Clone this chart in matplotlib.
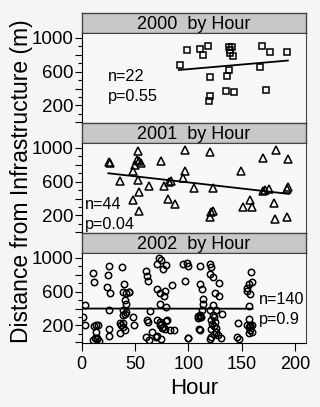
import numpy as np
import matplotlib
matplotlib.use('Agg')
import matplotlib.pyplot as plt

plt.rcParams['font.family'] = ['Liberation Sans', 'DejaVu Sans']

# ---------------- data ----------------
years = ['2000', '2001', '2002']

hour_2000 = [92, 99, 111, 114, 118, 120, 120, 119, 137.5, 141, 139, 142, 137.5, 136,
             135, 143, 169, 176, 167, 172.5, 192, 139]
dist_2000 = [675, 853, 872, 801, 908, 532, 307, 248, 892, 892, 821, 782, 623, 552,
             374, 355, 900, 833, 655, 378, 833, 860]

hour_2001 = [26, 27, 53, 52, 54, 50, 56, 48, 74, 36, 53, 63, 77, 84, 82, 95, 97, 54,
             48, 81, 87, 54, 97, 120, 105, 123, 123, 121, 120, 149, 158, 151, 159,
             170, 182, 193, 172, 170, 175, 180, 181, 192, 193, 192]
dist_2001 = [834, 820, 968, 861, 841, 795, 820, 731, 849, 605, 624, 546, 546, 612,
             600, 644, 724, 478, 387, 395, 336, 249, 971, 954, 520, 520, 249, 235,
             178, 731, 382, 297, 297, 875, 970, 868, 498, 490, 515, 349, 158, 183,
             540, 515]

hour_2002 = [3, 1, 3, 11, 12, 13.5, 15.5, 13.5, 12.5, 14.5, 11,
             26, 25, 23.5, 27, 26, 26, 26,
             37.5, 39.5, 39, 42, 44, 40.5, 42, 39, 38.5, 40.5, 36, 39, 38.5, 35.5,
             48.5, 49,
             60.5, 61.5, 62.5, 64, 61.5, 62.5, 60.5, 63.5, 65.5,
             72, 71, 74, 79, 76, 71, 73.5, 78, 77, 84.5, 73.5, 79, 71, 73.5, 73,
             75, 80, 78, 83, 86.5, 71, 74, 95, 98.5, 97, 100,
             100, 110.5, 110.5, 112.5, 113.5, 114, 112.5, 111, 110.5, 109, 109.5,
             120.5, 121, 120.5, 122.5, 129, 125, 129, 123, 120, 126, 131.5, 123,
             121, 125, 123.5, 121.5, 126, 120.5, 130, 127.5,
             100, 146, 145, 147,
             158.5, 156.5, 159.5, 154.5, 158, 154.5, 156.5, 156.5, 154.5, 158,
             159.5, 156.5, 158,
             14, 16, 12, 42, 44, 37, 41, 74, 76, 70, 79, 109, 112, 111,
             124, 122, 126, 124, 121, 158, 157, 159]
dist_2002 = [438, 301, 204, 826, 718, 204, 204, 126, 49, 37, 33,
             904, 796, 659, 581, 379, 154, 76,
             893, 690, 593, 581, 593, 496, 449, 379, 321, 340, 224, 231, 177, 115,
             301, 204,
             846, 788, 729, 368, 263, 243, 60, 29, 126,
             1001, 931, 975, 918, 866, 632, 581, 612, 543, 679, 457, 418, 263, 243,
             204, 165, 263, 157, 149, 149, 76, 37, 924, 944, 729, 49,
             904, 904, 690, 632, 516, 457, 387, 321, 301, 290, 154,
             931, 893, 815, 776, 698, 581, 554, 438, 387, 379, 340, 321,
             263, 243, 193, 154, 126, 37, 49, 88,
             56, 224, 68, 37,
             838, 690, 710, 644, 574, 606, 426, 282, 204, 193, 204, 115, 146,
             45, 20, 190, 360, 600, 200, 140, 220, 180, 60, 250, 310, 295, 150,
             300, 220, 170, 100, 60, 210, 180, 120]

# fitted lines (end points)
fit_x = [[91, 193], [25, 194], [1, 160]]
fit_y = [[620, 732], [700, 455], [400, 398]]

n_text = ['n=22', 'n=44', 'n=140']
p_text = ['p=0.55', 'p=0.04', 'p=0.9']
text_x = [25, 3, 165.5]
n_y = [493, 280, 454]
p_y = [249, 43, 217]

hours = [hour_2000, hour_2001, hour_2002]
dists = [dist_2000, dist_2001, dist_2002]
markers = ['s', '^', 'o']
msizes = [4.3, 5.2, 4.6]

# ---------------- figure ----------------
W, H = 320, 407
fig = plt.figure(figsize=(W / 100, H / 100), dpi=100, facecolor='#f5f5f5')

left = 81.6 / W
width = (306 - 81.6) / W
strip_h = 20 / H
plot_h = 90 / H
top0 = 13.3

for i in range(3):
    strip_top = top0 + i * 110
    sax = fig.add_axes([left, 1 - (strip_top + 20) / H, width, strip_h])
    sax.set_facecolor('#c8c8c8')
    sax.set_xticks([])
    sax.set_yticks([])
    for s in sax.spines.values():
        s.set_color('#444444')
        s.set_linewidth(1)
    sax.text(0.5, 0.45, years[i] + '  by Hour', ha='center', va='center',
             fontsize=13, transform=sax.transAxes)

    ax = fig.add_axes([left, 1 - (strip_top + 110) / H, width, plot_h])
    ax.set_facecolor('#f8f8f8')
    ax.plot(hours[i], dists[i], linestyle='none', marker=markers[i],
            markersize=msizes[i], mfc='none', mec='black', mew=1.1)
    ax.plot(fit_x[i], fit_y[i], color='black', lw=1.3)
    ax.text(text_x[i], n_y[i], n_text[i], fontsize=11.7, va='baseline')
    ax.text(text_x[i], p_y[i], p_text[i], fontsize=11.7, va='baseline')

    ax.set_xlim(0, 210)
    ax.set_ylim(-12, 1055)
    ax.set_yticks([0, 200, 400, 600, 800, 1000])
    ax.set_yticklabels(['', '200', '', '600', '', '1000'])
    ax.set_yticks(np.arange(100, 1000, 200), minor=True)
    ax.tick_params(axis='y', which='major', length=5, width=0.8, pad=1,
                   labelsize=13.5, direction='out')
    ax.tick_params(axis='y', which='minor', length=3, width=0.8, direction='out')
    for side in ['top', 'right']:
        ax.spines[side].set_color('#444444')
    ax.spines['left'].set_color('black')
    ax.spines['bottom'].set_color('black')
    if i < 2:
        ax.set_xticks([])
    else:
        ax.set_xticks([0, 50, 100, 150, 200])
        ax.tick_params(axis='x', length=6, width=0.8, pad=3, labelsize=13)

fig.text(22 / W, 1 - 181.5 / H, 'Distance from Infrastructure (m)', rotation=90,
         ha='center', va='center', fontsize=16.5)
fig.text(194 / W, 1 - 389 / H, 'Hour', ha='center', va='center', fontsize=16)

fig.savefig('out.png', dpi=100, facecolor=fig.get_facecolor())
